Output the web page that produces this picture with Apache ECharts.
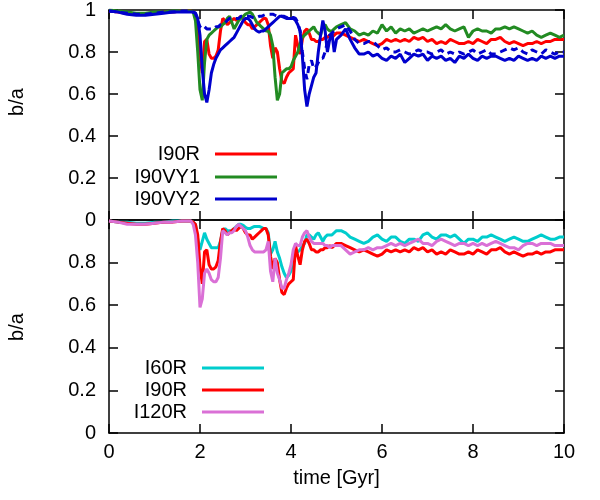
<!DOCTYPE html>
<html>
<head>
<meta charset="utf-8">
<script src="https://cdn.jsdelivr.net/npm/echarts@6/dist/echarts.min.js"></script>
<style>
  html, body { margin: 0; padding: 0; background: #fff; }
  #box { width: 600px; height: 500px; }
</style>
</head>
<body>
<div id="box"></div>
<script>
// time grid [Gyr]: coarse before the first passage, fine through the passages, 0.1 afterwards
const time = []
for (let t = 0; t < 1.7; t += 0.2) time.push(+t.toFixed(2))
for (let k = 0; k <= 64; k++) time.push(+(1.8 + 0.05 * k).toFixed(2))
for (let k = 1; k <= 50; k++) time.push(+(5 + 0.1 * k).toFixed(2))

const i90r = [
  0.995, 0.99, 0.985, 0.98, 0.98, 0.985, 0.99, 0.99, 0.995,
  0.995, 0.99, 0.98, 0.93, 0.78, 0.70, 0.85, 0.86, 0.79, 0.77,
  0.77, 0.78, 0.81, 0.90, 0.96, 0.95, 0.93, 0.94, 0.95, 0.96,
  0.95, 0.96, 0.97, 0.96, 0.94, 0.93, 0.93, 0.91, 0.92, 0.93,
  0.94, 0.95, 0.96, 0.96, 0.93, 0.83, 0.77, 0.82, 0.80, 0.72,
  0.66, 0.65, 0.68, 0.70, 0.71, 0.72, 0.88, 0.83, 0.79, 0.86,
  0.90, 0.91, 0.89, 0.86, 0.86, 0.85, 0.85, 0.86, 0.86, 0.87,
  0.87, 0.88, 0.87, 0.88, 0.89,
  0.89, 0.88, 0.87, 0.86, 0.85, 0.86, 0.85, 0.84, 0.83, 0.84,
  0.86, 0.85, 0.86, 0.85, 0.86, 0.85, 0.87, 0.86, 0.87, 0.85,
  0.86, 0.84, 0.85, 0.84, 0.86, 0.85, 0.84, 0.84, 0.85, 0.84,
  0.86, 0.85, 0.84, 0.86, 0.86, 0.87, 0.85, 0.84, 0.85, 0.84,
  0.83, 0.84, 0.84, 0.85, 0.84, 0.85, 0.85, 0.86, 0.86, 0.86
]

const i90vy1 = [
  1.0, 0.995, 0.99, 0.985, 0.985, 0.99, 0.99, 0.995, 0.995,
  0.995, 0.99, 0.95, 0.80, 0.62, 0.57, 0.75, 0.86, 0.88, 0.89,
  0.90, 0.91, 0.92, 0.92, 0.93, 0.94, 0.96, 0.97, 0.94, 0.91,
  0.93, 0.95, 0.96, 0.97, 0.98, 0.985, 0.99, 0.98, 0.96, 0.94,
  0.93, 0.92, 0.91, 0.90, 0.90, 0.88, 0.83, 0.68, 0.57, 0.60,
  0.70, 0.71, 0.72, 0.72, 0.73, 0.76, 0.78, 0.80, 0.84, 0.87,
  0.88, 0.89, 0.90, 0.91, 0.92, 0.90, 0.89, 0.88, 0.92, 0.93,
  0.91, 0.90, 0.90, 0.91, 0.92,
  0.93, 0.94, 0.91, 0.90, 0.88, 0.89, 0.88, 0.90, 0.89, 0.93,
  0.90, 0.92, 0.89, 0.91, 0.90, 0.91, 0.89, 0.90, 0.91, 0.90,
  0.91, 0.92, 0.91, 0.93, 0.91, 0.90, 0.91, 0.92, 0.87, 0.90,
  0.91, 0.90, 0.90, 0.89, 0.91, 0.91, 0.92, 0.91, 0.92, 0.91,
  0.90, 0.89, 0.90, 0.88, 0.87, 0.88, 0.89, 0.88, 0.87, 0.88
]

const i90vy2 = [
  0.995, 0.99, 0.98, 0.975, 0.975, 0.98, 0.985, 0.99, 0.99,
  0.99, 0.99, 0.985, 0.96, 0.88, 0.72, 0.60, 0.56, 0.62, 0.70,
  0.74, 0.77, 0.79, 0.81, 0.82, 0.83, 0.84, 0.85, 0.86, 0.87,
  0.89, 0.91, 0.93, 0.95, 0.96, 0.96, 0.95, 0.93, 0.91, 0.90,
  0.895, 0.90, 0.90, 0.91, 0.92, 0.93, 0.94, 0.95, 0.96, 0.97,
  0.97, 0.965, 0.96, 0.96, 0.96, 0.96, 0.95, 0.93, 0.90, 0.78,
  0.62, 0.54, 0.60, 0.64, 0.68, 0.70, 0.80, 0.88, 0.95, 0.90,
  0.80, 0.86, 0.89, 0.80, 0.86,
  0.88, 0.91, 0.86, 0.82, 0.79, 0.79, 0.80, 0.78, 0.79, 0.77,
  0.76, 0.78, 0.77, 0.79, 0.75, 0.77, 0.79, 0.78, 0.79, 0.76,
  0.78, 0.77, 0.78, 0.76, 0.77, 0.75, 0.78, 0.77, 0.79, 0.77,
  0.76, 0.78, 0.77, 0.78, 0.78, 0.77, 0.76, 0.77, 0.76, 0.78,
  0.77, 0.76, 0.77, 0.76, 0.78, 0.77, 0.78, 0.77, 0.78, 0.78
]

// second I90VY2 run (dashed, not in the key)
const i90vy2b = [
  0.995, 0.99, 0.985, 0.98, 0.98, 0.985, 0.99, 0.99, 0.995,
  0.995, 0.99, 0.985, 0.95, 0.92, 0.91, 0.92, 0.91, 0.91, 0.91,
  0.91, 0.92, 0.92, 0.93, 0.93, 0.94, 0.95, 0.96, 0.96, 0.96,
  0.96, 0.96, 0.97, 0.97, 0.97, 0.97, 0.97, 0.965, 0.96, 0.965,
  0.97, 0.97, 0.975, 0.98, 0.98, 0.98, 0.98, 0.975, 0.97, 0.97,
  0.97, 0.97, 0.965, 0.96, 0.96, 0.965, 0.96, 0.94, 0.90, 0.80,
  0.72, 0.67, 0.74, 0.76, 0.72, 0.73, 0.75, 0.77, 0.77, 0.80,
  0.85, 0.88, 0.89, 0.90, 0.91,
  0.92, 0.93, 0.90, 0.86, 0.84, 0.84, 0.85, 0.85, 0.83, 0.81,
  0.82, 0.80, 0.80, 0.81, 0.80, 0.79, 0.80, 0.81, 0.80, 0.80,
  0.79, 0.80, 0.81, 0.79, 0.80, 0.79, 0.80, 0.79, 0.80, 0.81,
  0.79, 0.80, 0.81, 0.79, 0.79, 0.80, 0.81, 0.82, 0.81, 0.82,
  0.80, 0.79, 0.81, 0.80, 0.79, 0.81, 0.80, 0.79, 0.80, 0.80
]

const i60r = [
  0.995, 0.99, 0.99, 0.985, 0.985, 0.99, 0.99, 0.995, 0.995,
  0.995, 0.99, 0.98, 0.91, 0.86, 0.90, 0.94, 0.91, 0.89, 0.87,
  0.87, 0.87, 0.87, 0.90, 0.95, 0.96, 0.95, 0.95, 0.95, 0.96,
  0.97, 0.98, 0.98, 0.975, 0.965, 0.96, 0.96, 0.965, 0.97, 0.97,
  0.97, 0.965, 0.96, 0.96, 0.94, 0.84, 0.86, 0.90, 0.85, 0.82,
  0.78, 0.75, 0.73, 0.74, 0.76, 0.82, 0.85, 0.85, 0.86, 0.88,
  0.89, 0.93, 0.93, 0.92, 0.91, 0.93, 0.94, 0.92, 0.90, 0.92,
  0.93, 0.93, 0.93, 0.94, 0.95,
  0.95, 0.94, 0.92, 0.91, 0.90, 0.89, 0.90, 0.92, 0.93, 0.91,
  0.90, 0.92, 0.92, 0.90, 0.89, 0.91, 0.91, 0.90, 0.93, 0.94,
  0.92, 0.91, 0.93, 0.93, 0.92, 0.93, 0.91, 0.89, 0.91, 0.91,
  0.90, 0.92, 0.92, 0.93, 0.92, 0.91, 0.90, 0.91, 0.92, 0.91,
  0.90, 0.90, 0.91, 0.92, 0.93, 0.92, 0.91, 0.91, 0.92, 0.92
]

const i120r = [
  0.995, 0.99, 0.98, 0.98, 0.98, 0.985, 0.99, 0.99, 0.995,
  0.995, 0.98, 0.93, 0.80, 0.59, 0.63, 0.75, 0.77, 0.75, 0.72,
  0.71, 0.71, 0.73, 0.82, 0.95, 0.94, 0.93, 0.94, 0.94, 0.95,
  0.97, 0.98, 0.97, 0.96, 0.95, 0.92, 0.88, 0.86, 0.85, 0.85,
  0.85, 0.85, 0.85, 0.86, 0.90, 0.76, 0.71, 0.82, 0.75, 0.72,
  0.68, 0.68, 0.72, 0.75, 0.79, 0.86, 0.89, 0.88, 0.88, 0.92,
  0.94, 0.95, 0.92, 0.90, 0.89, 0.89, 0.89, 0.89, 0.89, 0.88,
  0.88, 0.87, 0.88, 0.88, 0.88,
  0.88, 0.86, 0.84, 0.85, 0.86, 0.86, 0.87, 0.86, 0.87, 0.87,
  0.88, 0.89, 0.88, 0.89, 0.88, 0.89, 0.90, 0.91, 0.89, 0.89,
  0.88, 0.90, 0.91, 0.90, 0.89, 0.88, 0.89, 0.89, 0.88, 0.89,
  0.88, 0.89, 0.88, 0.89, 0.90, 0.89, 0.88, 0.87, 0.87, 0.86,
  0.88, 0.89, 0.89, 0.88, 0.89, 0.89, 0.89, 0.88, 0.88, 0.88
]

const font = 'Liberation Sans'
const fs = 20
const black = '#000'
const colors = { red: '#ff0000', green: '#228b22', blue: '#0000cd', cyan: '#00cdcd', violet: '#da70d6' }

const pairs = vals => time.map((t, i) => [t, vals[i]])

function xAxis (grid, pos, labels) {
  return {
    type: 'value', gridIndex: grid, position: pos, min: 0, max: 10, interval: 2,
    axisLine: { show: true, onZero: false, lineStyle: { color: black, width: 1.5 } },
    axisTick: { show: true, inside: true, length: 9, lineStyle: { color: black, width: 1.5 } },
    axisLabel: { show: labels, margin: 9, fontSize: fs, fontFamily: font, color: black },
    splitLine: { show: false }
  }
}
function yAxis (grid, pos, labels, hideTop) {
  return {
    type: 'value', gridIndex: grid, position: pos, min: 0, max: 1, interval: 0.2,
    axisLine: { show: true, onZero: false, lineStyle: { color: black, width: 1.5 } },
    axisTick: { show: true, inside: true, length: 9, lineStyle: { color: black, width: 1.5 } },
    axisLabel: {
      show: labels, margin: 13, fontSize: fs, fontFamily: font, color: black,
      formatter: v => (hideTop && v === 1) ? '' : String(+v.toFixed(1))
    },
    splitLine: { show: false }
  }
}
function line (name, vals, color, grid, dashed) {
  return {
    name, type: 'line', data: pairs(vals), xAxisIndex: grid * 2, yAxisIndex: grid * 2,
    symbol: 'none', showSymbol: false, animation: false,
    lineStyle: { color, width: 3, type: dashed ? [7, 5] : 'solid' },
    itemStyle: { color }
  }
}
function key (name, right, top) {
  return {
    data: [name], right, top, align: 'right', orient: 'vertical', padding: 0,
    icon: 'rect', itemWidth: 62, itemHeight: 3, selectedMode: false,
    textStyle: { fontSize: fs, fontFamily: font, color: black, padding: [0, 10, 0, 0] }
  }
}

const options = {
  backgroundColor: '#fff',
  animation: false,
  grid: [
    { left: 109, right: 36, top: 6, height: 214 },
    { left: 109, right: 36, top: 220, height: 213 }
  ],
  xAxis: [
    xAxis(0, 'bottom', false), xAxis(0, 'top', false),
    Object.assign(xAxis(1, 'bottom', true), {
      name: 'time [Gyr]', nameLocation: 'middle', nameGap: 35,
      nameTextStyle: { fontSize: fs, fontFamily: font, color: black }
    }),
    xAxis(1, 'top', false)
  ],
  yAxis: [
    yAxis(0, 'left', true, false), yAxis(0, 'right', false, false),
    yAxis(1, 'left', true, true), yAxis(1, 'right', false, false)
  ],
  legend: [
    key('I90R', 323, 144), key('I90VY1', 323, 167), key('I90VY2', 323, 189),
    key('I60R', 336, 358), key('I90R', 336, 380), key('I120R', 336, 402)
  ],
  graphic: [
    { type: 'text', x: 17, y: 102, rotation: Math.PI / 2, style: { text: 'b/a', font: fs + 'px "Liberation Sans"', fill: black, align: 'center', verticalAlign: 'middle' } },
    { type: 'text', x: 17, y: 327, rotation: Math.PI / 2, style: { text: 'b/a', font: fs + 'px "Liberation Sans"', fill: black, align: 'center', verticalAlign: 'middle' } }
  ],
  series: [
    line('I90R', i90r, colors.red, 0),
    line('I90VY1', i90vy1, colors.green, 0),
    line('I90VY2', i90vy2, colors.blue, 0),
    line('I90VY2 run b', i90vy2b, colors.blue, 0, true),
    line('I60R', i60r, colors.cyan, 1),
    line('I90R', i90r, colors.red, 1),
    line('I120R', i120r, colors.violet, 1)
  ]
}

const chart = echarts.init(document.getElementById('box'), null, { renderer: 'canvas' })
chart.setOption(options)
</script>
</body>
</html>
